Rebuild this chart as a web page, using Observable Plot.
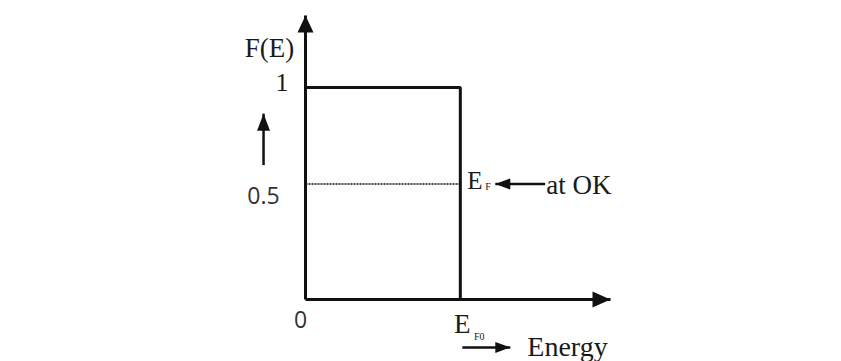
<!DOCTYPE html>
<html>
<head>
<meta charset="utf-8">
<script src="https://cdn.jsdelivr.net/npm/d3@7"></script>
<script src="https://cdn.jsdelivr.net/npm/@observablehq/plot@0.6"></script>
<style>
  html, body { margin: 0; padding: 0; background: #fff; }
  #chart svg { display: block; }
</style>
</head>
<body>
<div id="chart"></div>
<script>
// Fermi–Dirac distribution at 0 K: F(E) = 1 below E_F0, 0 above
const stepEnergy = [0, 1, 1];          // 0 … E_F0
const stepOccupancy = [1, 1, 0];
const energyMax = 1.97;                 // end of the energy axis
const occupancyMax = 1.34;              // end of the F(E) axis
const fermiLevelDotted = 0.545;         // dotted line marking the Fermi level
const yTickValues = [0, 0.5, 1];
const yTickLabels = ["0", "0.5", "1"];

// annotation anchors (data units)
const upArrow = {x: -0.271, y1: 0.634, y2: 0.877};
const efArrow = {y: 0.545, x1: 1.548, x2: 1.226};
const energyArrow = {y: -0.226, x1: 1.013, x2: 1.323};

const step = stepEnergy.map((E, i) => ({E, F: stepOccupancy[i]}));

function head(len, wid) {
  return {
    draw(ctx) {
      ctx.moveTo(0, 0);
      ctx.lineTo(-wid / 2, len);
      ctx.lineTo(wid / 2, len);
      ctx.closePath();
    }
  };
}

const serif = "Liberation Serif";
const sans = "Open Sans";
const ink = "#111";
const txt = "#1a1a1a";

const tickData = yTickValues.map((v, i) => ({v, label: yTickLabels[i]}));

const chart = Plot.plot({
  width: 841,
  height: 361,
  marginLeft: 305,
  marginRight: 231,
  marginTop: 15,
  marginBottom: 62,
  x: {domain: [0, energyMax], axis: null},
  y: {domain: [0, occupancyMax], axis: null},
  style: {background: "#fff", overflow: "visible"},
  marks: [
    // axes
    Plot.link([0], {x1: 0, y1: 0, x2: 0, y2: occupancyMax, stroke: ink, strokeWidth: 3}),
    Plot.link([0], {x1: 0, y1: 0, x2: energyMax, y2: 0, stroke: ink, strokeWidth: 3}),
    Plot.dot([0], {x: 0, y: occupancyMax, symbol: head(17, 16), r: 8, fill: ink, stroke: "none", rotate: 0}),
    Plot.dot([0], {x: energyMax, y: 0, symbol: head(18, 16), r: 8, fill: ink, stroke: "none", rotate: 90}),
    // step function
    Plot.line(step, {x: "E", y: "F", stroke: ink, strokeWidth: 3, strokeLinejoin: "miter"}),
    // dotted Fermi level
    Plot.link([0], {x1: 0, x2: stepEnergy[1], y1: fermiLevelDotted, y2: fermiLevelDotted, stroke: ink, strokeWidth: 1.5, strokeDasharray: "2,1"}),
    // y tick labels
    Plot.text(tickData.filter(d => d.v === 1), {x: 0, y: "v", text: "label", fontFamily: serif, fontSize: 26, fill: txt, textAnchor: "end", dx: -17, dy: -5}),
    Plot.text(tickData.filter(d => d.v === 0.5), {x: 0, y: "v", text: "label", fontFamily: sans, fontSize: 23, fill: "#333", textAnchor: "middle", dx: -42, dy: 3}),
    Plot.text(tickData.filter(d => d.v === 0), {x: 0, y: "v", text: "label", fontFamily: sans, fontSize: 23, fill: "#333", textAnchor: "middle", dx: -5, dy: 21}),
    // axis title
    Plot.text(["F(E)"], {x: 0, y: occupancyMax, text: d => d, fontFamily: serif, fontSize: 27, fill: txt, textAnchor: "middle", dx: -36, dy: 33}),
    // up arrow beside y axis
    Plot.link([upArrow], {x1: "x", x2: "x", y1: "y1", y2: "y2", stroke: ink, strokeWidth: 2.5}),
    Plot.dot([upArrow], {x: "x", y: "y2", symbol: head(17, 13), r: 7, fill: ink, stroke: "none", rotate: 0}),
    // E_F label with arrow and "at OK"
    Plot.text(["E"], {x: stepEnergy[1], y: efArrow.y, text: d => d, fontFamily: serif, fontSize: 25, fill: txt, textAnchor: "start", dx: 7, dy: -3}),
    Plot.text(["F"], {x: stepEnergy[1], y: efArrow.y, text: d => d, fontFamily: serif, fontSize: 10, fill: txt, textAnchor: "start", dx: 25, dy: 3}),
    Plot.link([efArrow], {x1: "x1", x2: "x2", y1: "y", y2: "y", stroke: ink, strokeWidth: 2.5}),
    Plot.dot([efArrow], {x: "x2", y: "y", symbol: head(15, 11), r: 6, fill: ink, stroke: "none", rotate: -90}),
    Plot.text(["at OK"], {x: efArrow.x1, y: efArrow.y, text: d => d, fontFamily: serif, fontSize: 27, fill: txt, textAnchor: "start", dx: 1, dy: 1}),
    // E_F0 label
    Plot.text(["E"], {x: stepEnergy[1], y: 0, text: d => d, fontFamily: serif, fontSize: 27, fill: txt, textAnchor: "middle", dx: 2, dy: 25}),
    Plot.text(["F0"], {x: stepEnergy[1], y: 0, text: d => d, fontFamily: serif, fontSize: 10, fill: txt, textAnchor: "middle", dx: 19, dy: 37}),
    // Energy arrow and label
    Plot.link([energyArrow], {x1: "x1", x2: "x2", y1: "y", y2: "y", stroke: ink, strokeWidth: 2.5}),
    Plot.dot([energyArrow], {x: "x2", y: "y", symbol: head(15, 11), r: 6, fill: ink, stroke: "none", rotate: 90}),
    Plot.text(["Energy"], {x: energyArrow.x2, y: energyArrow.y, text: d => d, fontFamily: serif, fontSize: 28, fill: txt, textAnchor: "start", dx: 17, dy: 0})
  ]
});

document.getElementById("chart").appendChild(chart);
</script>
</body>
</html>
